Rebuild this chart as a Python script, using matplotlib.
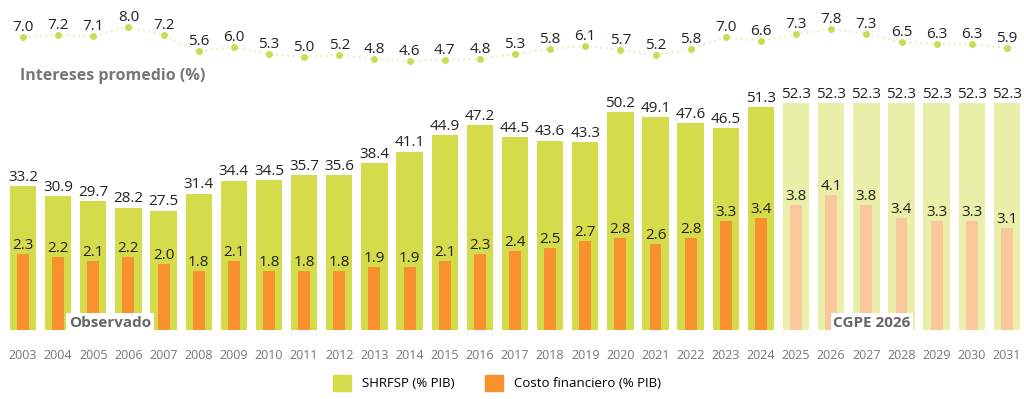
import matplotlib.pyplot as plt
from matplotlib.patches import Patch

years = list(range(2003, 2032))
shrfsp = [33.2, 30.9, 29.7, 28.2, 27.5, 31.4, 34.4, 34.5, 35.7, 35.6, 38.4, 41.1, 44.9, 47.2,
          44.5, 43.6, 43.3, 50.2, 49.1, 47.6, 46.5, 51.3, 52.3, 52.3, 52.3, 52.3, 52.3, 52.3, 52.3]
costo = [2.3, 2.2, 2.1, 2.2, 2.0, 1.8, 2.1, 1.8, 1.8, 1.8, 1.9, 1.9, 2.1, 2.3,
         2.4, 2.5, 2.7, 2.8, 2.6, 2.8, 3.3, 3.4, 3.8, 4.1, 3.8, 3.4, 3.3, 3.3, 3.1]
intereses = [7.0, 7.2, 7.1, 8.0, 7.2, 5.6, 6.0, 5.3, 5.0, 5.2, 4.8, 4.6, 4.7, 4.8,
             5.3, 5.8, 6.1, 5.7, 5.2, 5.8, 7.0, 6.6, 7.3, 7.8, 7.3, 6.5, 6.3, 6.3, 5.9]
n_obs = 22  # 2003-2024 observado, luego CGPE 2026

plt.rcParams['font.family'] = ['Open Sans', 'DejaVu Sans']

W, H = 1024, 399
fig = plt.figure(figsize=(W / 100, H / 100), dpi=100)
base_px = 330
ax = fig.add_axes([0, (H - base_px) / H, 1, base_px / H])
x = list(range(len(years)))

green = ['#d5dc4c' if i < n_obs else '#e9eea8' for i in x]
orange = ['#f8922e' if i < n_obs else '#fbc79c' for i in x]

ax.bar(x, shrfsp, width=0.75, color=green)
ax.set_ylim(0, base_px / 4.34)
ax.set_xlim(-23 / 35.14, (W - 23) / 35.14)
for i, v in zip(x, shrfsp):
    ax.text(i, v + 0.3, f'{v:.1f}', ha='center', va='bottom', fontsize=11, color='#222222')

ax2 = ax.twinx()
ax2.bar(x, costo, width=0.34, color=orange)
ax2.set_ylim(0, base_px / 33.0)
for i, v in zip(x, costo):
    ax2.text(i, v + 0.03, f'{v:.1f}', ha='center', va='bottom', fontsize=11, color='#222222')

ax3 = ax.twinx()
ax3.plot(x, intereses, linestyle=':', color='#eaf0c4', linewidth=1.5, marker='o',
         markersize=5, markerfacecolor='#c8dc55', markeredgewidth=0)
ax3.set_ylim(7 - (base_px - 37) / 10, 7 + 37 / 10)
for i, v in zip(x, intereses):
    ax3.text(i, v + 0.2, f'{v:.1f}', ha='center', va='bottom', fontsize=11, color='#222222')

for a in (ax, ax2, ax3):
    a.set_yticks([])
    for s in a.spines.values():
        s.set_visible(False)
ax.set_xticks(x)
ax.set_xticklabels([str(y) for y in years], fontsize=9, color='#777777')
ax.tick_params(axis='x', length=0, pad=14)

fig.text(20 / W, 1 - 76 / H, 'Intereses promedio (%)', fontsize=11.5, fontweight='bold',
         color='#777777', va='center')
bbox = dict(facecolor='white', edgecolor='none', pad=2)
fig.text(110 / W, 1 - 323 / H, 'Observado', fontsize=11, fontweight='bold', color='#666666',
         ha='center', va='center', bbox=bbox)
fig.text(872 / W, 1 - 323 / H, 'CGPE 2026', fontsize=11, fontweight='bold', color='#666666',
         ha='center', va='center', bbox=bbox)

handles = [Patch(color='#d5dc4c', label='SHRFSP (% PIB)'),
           Patch(color='#f8922e', label='Costo financiero (% PIB)')]
fig.legend(handles=handles, loc='center', bbox_to_anchor=(0.485, 1 - 383 / H), ncol=2,
           frameon=False, fontsize=9.5, handlelength=1.4, handleheight=1.4, columnspacing=2.3,
           handletextpad=0.8)

fig.savefig('out.png', dpi=100)
